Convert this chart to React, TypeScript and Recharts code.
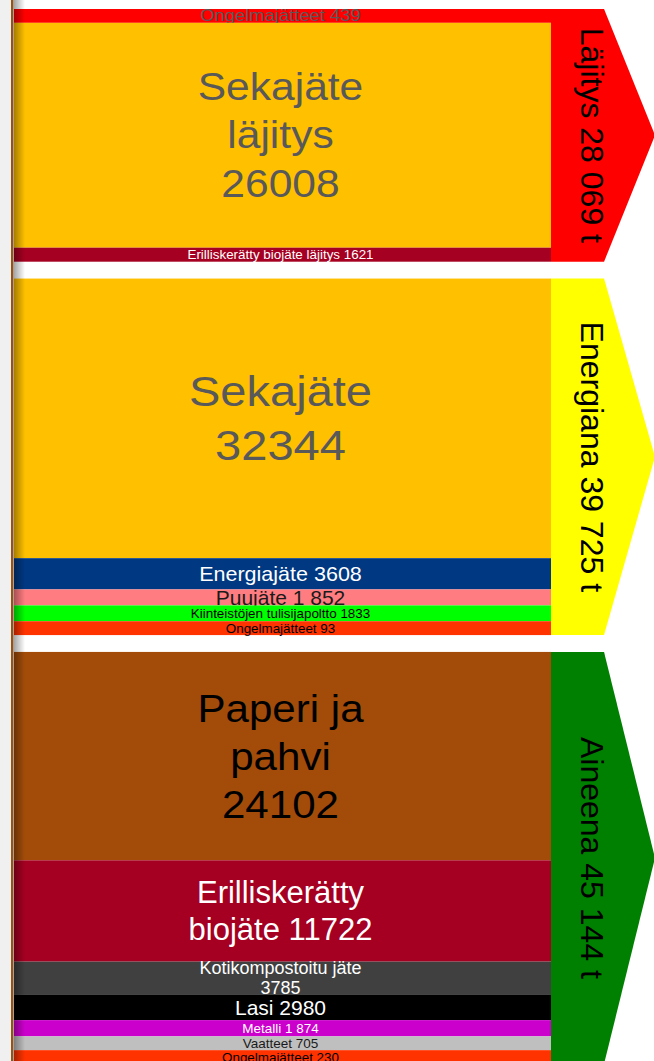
import { BarChart, Bar, XAxis, YAxis } from 'recharts';

const GROUP_NAMES = ['Läjitys', 'Energiana', 'Aineena'];
const GROUP_TOTALS = [28069, 39725, 45144];

const LAJITYS_LABELS = ['Ongelmajätteet 439', 'Sekajäte\nläjitys\n26008', 'Erilliskerätty biojäte läjitys 1621'];
const LAJITYS_VALUES = [439, 26008, 1621];

const ENERGIA_LABELS = ['Sekajäte\n32344', 'Energiajäte 3608', 'Puujäte 1 852', 'Kiinteistöjen tulisijapoltto 1833', 'Ongelmajätteet 93'];
const ENERGIA_VALUES = [32344, 3608, 1852, 1833, 93];

const AINEENA_LABELS = ['Paperi ja\npahvi\n24102', 'Erilliskerätty\nbiojäte 11722', 'Kotikompostoitu jäte\n3785', 'Lasi 2980', 'Metalli 1 874', 'Vaatteet 705', 'Ongelmajätteet 230'];
const AINEENA_VALUES = [24102, 11722, 3785, 2980, 1874, 705, 230];

const GROUP_LABELS = [LAJITYS_LABELS, ENERGIA_LABELS, AINEENA_LABELS];
const GROUP_VALUES = [LAJITYS_VALUES, ENERGIA_VALUES, AINEENA_VALUES];

// thin rows keep a readable height, spacing between the groups in tonnes
const MIN_SHOWN = 1600;
const GAP = 1950;

const FONT = '"Liberation Sans", Arial, sans-serif';
const GRAY = '#595959';

const FILLS = [
  ['#FF0000', '#FFC000', '#A50021'],
  ['#FFC000', '#003882', '#FF7C80', '#00FF00', '#FF3300'],
  ['#A34C0A', '#A50021', '#404040', '#000000', '#CC00CC', '#BFBFBF', '#FF3300'],
];

type TextStyle = { size: number; color: string; sx?: number; lh?: number };
const TEXT: TextStyle[][] = [
  [{ size: 16, sx: 1.15, color: GRAY }, { size: 38, sx: 1.12, lh: 1.28, color: GRAY }, { size: 13.4, color: '#fff' }],
  [
    { size: 42, sx: 1.12, lh: 1.3, color: GRAY },
    { size: 20.5, sx: 1.05, color: '#fff' },
    { size: 20, sx: 1.05, color: '#1a1a1a' },
    { size: 13.4, color: '#000' },
    { size: 13.4, color: '#000' },
  ],
  [
    { size: 39, sx: 1.08, lh: 1.23, color: '#000' },
    { size: 31, color: '#fff' },
    { size: 18, lh: 1.1, color: '#fff' },
    { size: 21, color: '#fff' },
    { size: 13.5, color: '#fff' },
    { size: 13.5, color: '#1a1a1a' },
    { size: 13.4, color: '#000' },
  ],
];

const ARROW_FILLS = ['#FF0000', '#FFFF00', '#008000'];

const fmt = (v: number) => `${Math.floor(v / 1000)} ${String(v % 1000).padStart(3, '0')} t`;

// one row, every segment its own stacked key
const row: Record<string, number | string> = { name: 'jäte' };
const segKeys: { key: string; g: number; i: number }[] = [];
const totKeys: { key: string; g: number }[] = [];
GROUP_VALUES.forEach((vals, g) => {
  vals.forEach((v, i) => {
    const key = `s${g}_${i}`;
    row[key] = Math.max(v, MIN_SHOWN);
    segKeys.push({ key, g, i });
  });
  row[`t${g}`] = vals.reduce((s, v) => s + Math.max(v, MIN_SHOWN), 0);
  totKeys.push({ key: `t${g}`, g });
  if (g < GROUP_VALUES.length - 1) {
    row[`sgap${g}`] = GAP;
    row[`tgap${g}`] = GAP;
    segKeys.push({ key: `sgap${g}`, g: -1, i: -1 });
    totKeys.push({ key: `tgap${g}`, g: -1 });
  }
});
const TOTAL = segKeys.reduce((s, k) => s + (row[k.key] as number), 0);

const box = (p: any) => {
  const top = Math.min(p.y, p.y + p.height);
  return { x: p.x, top, w: p.width, h: Math.abs(p.height) };
};

function segmentShape(g: number, i: number) {
  return (p: any) => {
    const { x, top, w, h } = box(p);
    const st = TEXT[g][i];
    const lines = GROUP_LABELS[g][i].split('\n');
    const lh = st.size * (st.lh ?? 1.2);
    const cx = x + w / 2 - 2;
    const cy = top + h / 2;
    return (
      <g>
        <rect x={x} y={top} width={w} height={h} fill={FILLS[g][i]} />
        {lines.map((line, k) => (
          <text
            key={k}
            transform={`translate(${cx},${cy + (k - (lines.length - 1) / 2) * lh}) scale(${st.sx ?? 1},1)`}
            textAnchor="middle"
            dominantBaseline="central"
            fontSize={st.size}
            fill={st.color}
            fontFamily={FONT}
          >
            {line}
          </text>
        ))}
      </g>
    );
  };
}

function arrowShape(g: number) {
  return (p: any) => {
    const { x, top, w, h } = box(p);
    const body = x + w * 0.51;
    const pts = `${x},${top} ${body},${top} ${x + w},${top + h / 2} ${body},${top + h} ${x},${top + h}`;
    return (
      <g>
        <polygon points={pts} fill={ARROW_FILLS[g]} />
        <text
          transform={`translate(${x + 30},${top + h / 2}) rotate(90)`}
          textAnchor="middle"
          fontSize={32}
          fill="#000"
          fontFamily={FONT}
        >
          {`${GROUP_NAMES[g]} ${fmt(GROUP_TOTALS[g])}`}
        </text>
      </g>
    );
  };
}

const empty = () => <g />;

export default function App() {
  return (
    <div style={{ position: 'fixed', left: 0, top: 0, width: 654, height: 1061, overflow: 'hidden', background: '#fff' }}>
      <div style={{ position: 'absolute', left: 0, top: 0, width: 11, height: 1061, background: '#F0F0F0' }} />
      <div style={{ position: 'absolute', left: 11, top: 0, width: 2, height: 1061, background: '#A0500A' }} />
      <div style={{ position: 'absolute', left: 13, top: 0 }}>
        <BarChart width={642} height={1072} data={[row]} margin={{ top: 9, right: 0, bottom: 8, left: 0 }} barGap={0} barCategoryGap={0}>
          <XAxis dataKey="name" type="category" hide />
          <YAxis type="number" domain={[0, TOTAL]} reversed hide />
          {segKeys.map((k) => (
            <Bar
              key={k.key}
              dataKey={k.key}
              stackId="seg"
              barSize={537}
              isAnimationActive={false}
              shape={k.g < 0 ? empty : segmentShape(k.g, k.i)}
            />
          ))}
          {totKeys.map((k) => (
            <Bar
              key={k.key}
              dataKey={k.key}
              stackId="tot"
              barSize={104}
              isAnimationActive={false}
              shape={k.g < 0 ? empty : arrowShape(k.g)}
            />
          ))}
        </BarChart>
      </div>
      <div
        style={{
          position: 'absolute', left: 13, top: 0, width: 12, height: 1061, pointerEvents: 'none',
          background: 'linear-gradient(to right, rgba(0,0,0,0.38), rgba(0,0,0,0))',
        }}
      />
    </div>
  );
}
